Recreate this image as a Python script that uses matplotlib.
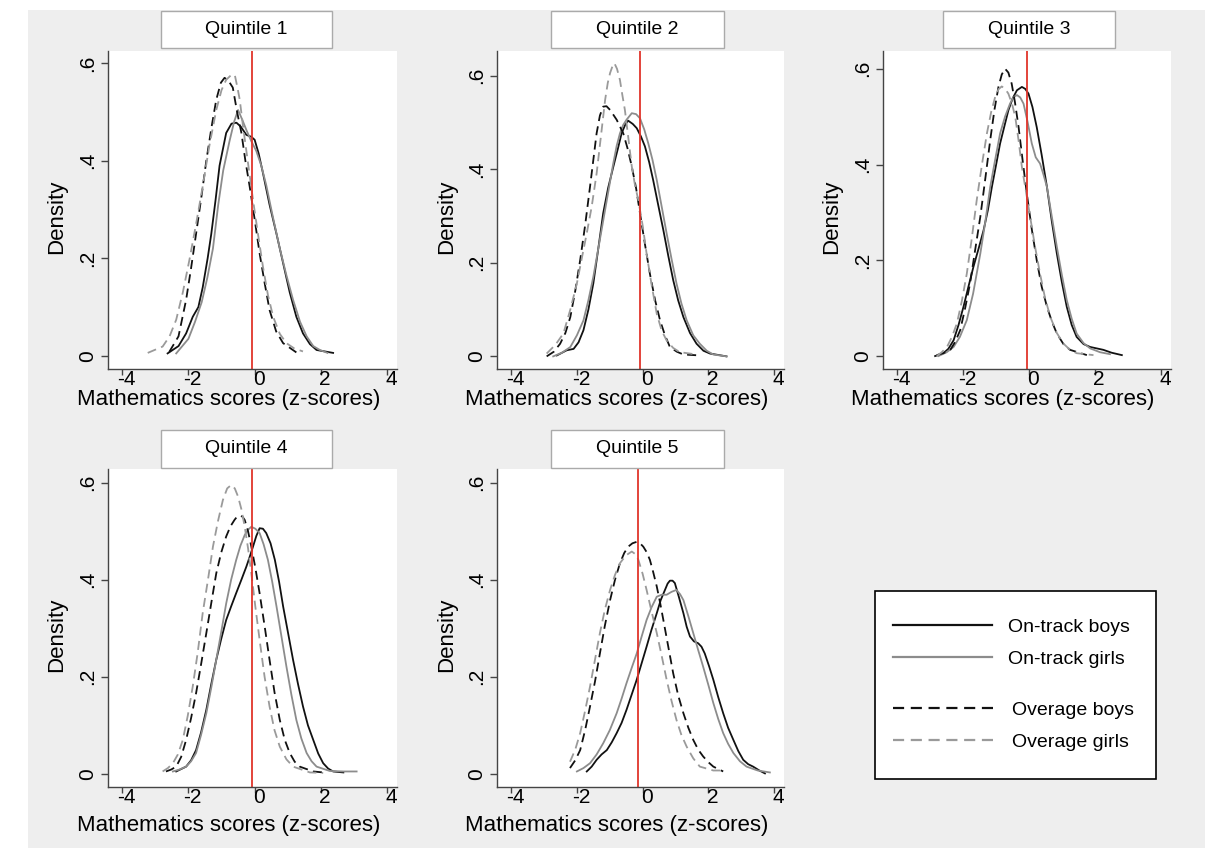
import matplotlib
matplotlib.use("Agg")
import matplotlib.pyplot as plt
from matplotlib.patches import Rectangle
from matplotlib.lines import Line2D
import matplotlib.transforms as mtransforms

plt.rcParams['font.family'] = ['Liberation Sans', 'DejaVu Sans']

# Daten: (z-score, Dichte) je Kurve und Quintil
q1_ontrack_boys = [(-2.63, .005), (-2.3, .02), (-2.07, .046), (-1.87, .08), (-1.7, .1), (-1.57, .14),
                   (-1.42, .2), (-1.31, .25), (-1.18, .32), (-1.06, .39), (-0.86, .457), (-0.7, .476),
                   (-0.55, .478), (-0.42, .47), (-0.25, .453), (-0.1, .449), (0.0, .443), (0.12, .415),
                   (0.25, .375), (0.45, .31), (0.66, .25), (0.86, .19), (1.06, .13), (1.26, .08),
                   (1.46, .046), (1.67, .024), (1.87, .012), (2.37, .006)]
q1_ontrack_girls = [(-2.37, .005), (-2.0, .035), (-1.8, .07), (-1.6, .11), (-1.43, .16), (-1.26, .22),
                    (-1.1, .31), (-0.95, .38), (-0.76, .44), (-0.62, .48), (-0.5, .504), (-0.38, .485),
                    (-0.25, .463), (-0.1, .44), (0.05, .42), (0.2, .39), (0.35, .35), (0.55, .285),
                    (0.76, .22), (0.96, .165), (1.16, .115), (1.37, .07), (1.57, .04), (1.77, .02),
                    (1.97, .012), (2.2, .006)]
q1_overage_boys = [(-2.58, .008), (-2.3, .04), (-2.07, .115), (-1.92, .18), (-1.77, .25), (-1.6, .33),
                   (-1.46, .40), (-1.3, .47), (-1.16, .525), (-1.02, .56), (-0.91, .57), (-0.8, .565),
                   (-0.66, .55), (-0.53, .5), (-0.4, .457), (-0.28, .4), (-0.15, .347), (0.0, .28),
                   (0.15, .21), (0.3, .15), (0.45, .094), (0.65, .05), (0.86, .026), (1.26, .007)]
q1_overage_girls = [(-3.23, .006), (-2.78, .019), (-2.57, .04), (-2.37, .074), (-2.17, .13), (-1.97, .197),
                    (-1.77, .27), (-1.57, .347), (-1.37, .43), (-1.16, .504), (-1.0, .545), (-0.86, .566),
                    (-0.72, .575), (-0.6, .576), (-0.52, .55), (-0.45, .525), (-0.35, .47), (-0.25, .42),
                    (-0.15, .37), (-0.05, .32), (0.1, .25), (0.25, .183), (0.4, .125), (0.56, .08),
                    (0.76, .045), (0.96, .026), (1.2, .015), (1.46, .009)]

q2_ontrack_boys = [(-2.61, .002), (-2.31, .013), (-2.1, .016), (-1.95, .03), (-1.8, .056), (-1.65, .1),
                   (-1.5, .156), (-1.35, .23), (-1.2, .306), (-1.05, .36), (-0.89, .406), (-0.75, .445),
                   (-0.64, .477), (-0.52, .497), (-0.44, .504), (-0.3, .497), (-0.18, .488), (-0.05, .47),
                   (0.07, .449), (0.2, .415), (0.32, .377), (0.47, .325), (0.63, .27), (0.78, .215),
                   (0.93, .163), (1.08, .12), (1.24, .084), (1.44, .05), (1.64, .027), (1.85, .012),
                   (2.05, .006), (2.55, .0)]
q2_ontrack_girls = [(-2.72, .0), (-2.45, .008), (-2.2, .02), (-2.0, .045), (-1.8, .077), (-1.65, .12),
                    (-1.5, .17), (-1.35, .23), (-1.2, .29), (-1.05, .35), (-0.9, .41), (-0.79, .45),
                    (-0.69, .477), (-0.59, .495), (-0.49, .506), (-0.33, .52), (-0.2, .518), (-0.08, .509),
                    (0.05, .485), (0.17, .456), (0.3, .42), (0.43, .377), (0.58, .32), (0.73, .263),
                    (0.88, .208), (1.03, .156), (1.18, .113), (1.34, .077), (1.54, .045), (1.74, .027),
                    (1.95, .012), (2.15, .004), (2.55, .0)]
q2_overage_boys = [(-2.92, .0), (-2.7, .01), (-2.51, .027), (-2.35, .05), (-2.2, .084), (-2.05, .14),
                   (-1.9, .206), (-1.75, .28), (-1.6, .363), (-1.5, .42), (-1.4, .477), (-1.3, .515),
                   (-1.2, .534), (-1.1, .535), (-0.99, .527), (-0.79, .506), (-0.59, .477), (-0.46, .445),
                   (-0.33, .406), (-0.2, .36), (-0.08, .306), (0.07, .24), (0.22, .177), (0.38, .12),
                   (0.53, .077), (0.68, .045), (0.83, .02), (1.04, .01), (1.24, .004), (1.74, .002)]
q2_overage_girls = [(-2.92, .006), (-2.65, .025), (-2.41, .049), (-2.2, .1), (-2.0, .156), (-1.85, .21),
                    (-1.7, .263), (-1.55, .32), (-1.4, .391), (-1.27, .47), (-1.14, .549), (-1.06, .585),
                    (-0.99, .606), (-0.92, .62), (-0.86, .627), (-0.78, .615), (-0.69, .591), (-0.62, .56),
                    (-0.54, .527), (-0.44, .47), (-0.33, .406), (-0.23, .365), (-0.13, .334), (0.0, .28),
                    (0.12, .22), (0.28, .15), (0.43, .091), (0.58, .055), (0.73, .034), (0.93, .018),
                    (1.13, .009), (1.64, .004)]

q3_ontrack_boys = [(-2.85, .0), (-2.6, .006), (-2.45, .015), (-2.29, .033), (-2.14, .065), (-1.99, .103),
                   (-1.84, .145), (-1.69, .186), (-1.53, .225), (-1.38, .263), (-1.25, .305), (-1.13, .353),
                   (-1.0, .4), (-0.88, .444), (-0.75, .48), (-0.63, .513), (-0.5, .538), (-0.37, .555),
                   (-0.22, .562), (-0.12, .558), (-0.02, .548), (0.1, .52), (0.23, .478), (0.38, .42),
                   (0.54, .353), (0.69, .28), (0.84, .214), (0.99, .155), (1.14, .103), (1.29, .065),
                   (1.44, .04), (1.65, .025), (1.85, .019), (2.25, .013), (2.5, .007), (2.81, .002)]
q3_ontrack_girls = [(-2.75, .0), (-2.5, .008), (-2.29, .019), (-2.1, .04), (-1.89, .075), (-1.7, .13),
                    (-1.48, .214), (-1.33, .28), (-1.18, .353), (-1.03, .41), (-0.88, .465), (-0.73, .5),
                    (-0.58, .527), (-0.48, .54), (-0.37, .545), (-0.27, .54), (-0.17, .527), (-0.05, .49),
                    (0.08, .444), (0.2, .415), (0.33, .402), (0.43, .38), (0.54, .353), (0.69, .29),
                    (0.84, .228), (0.99, .17), (1.14, .117), (1.29, .078), (1.44, .047), (1.65, .027),
                    (1.85, .016), (2.15, .008), (2.45, .004)]
q3_overage_boys = [(-2.8, .002), (-2.6, .006), (-2.39, .013), (-2.24, .03), (-2.09, .054), (-1.94, .1),
                   (-1.79, .152), (-1.64, .22), (-1.48, .291), (-1.33, .37), (-1.18, .451), (-1.05, .515),
                   (-0.93, .562), (-0.83, .588), (-0.73, .6), (-0.63, .592), (-0.53, .569), (-0.43, .53),
                   (-0.32, .478), (-0.2, .41), (-0.07, .339), (0.08, .265), (0.23, .2), (0.38, .145),
                   (0.54, .103), (0.69, .072), (0.84, .047), (1.04, .025), (1.24, .013), (1.75, .002)]
q3_overage_girls = [(-2.8, .0), (-2.65, .008), (-2.49, .019), (-2.34, .04), (-2.19, .068), (-2.04, .115),
                    (-1.89, .172), (-1.74, .245), (-1.59, .325), (-1.43, .4), (-1.28, .465), (-1.15, .51),
                    (-1.03, .541), (-0.93, .557), (-0.83, .563), (-0.73, .558), (-0.63, .548), (-0.52, .527),
                    (-0.42, .499), (-0.32, .45), (-0.22, .395), (-0.1, .345), (0.03, .291), (0.18, .228),
                    (0.33, .172), (0.48, .122), (0.64, .082), (0.84, .048), (1.04, .026), (1.24, .013),
                    (1.44, .006), (1.95, .002)]

q4_ontrack_boys = [(-2.37, .005), (-2.07, .015), (-1.92, .028), (-1.77, .049), (-1.62, .085), (-1.46, .132),
                   (-1.31, .185), (-1.16, .235), (-1.01, .278), (-0.86, .317), (-0.71, .345), (-0.56, .372),
                   (-0.4, .4), (-0.25, .427), (-0.15, .447), (-0.05, .468), (0.05, .49), (0.15, .506),
                   (0.25, .505), (0.35, .496), (0.48, .475), (0.61, .441), (0.74, .395), (0.86, .345),
                   (1.01, .29), (1.16, .235), (1.31, .185), (1.46, .139), (1.61, .1), (1.77, .07),
                   (1.92, .042), (2.07, .022), (2.22, .011), (2.37, .005), (2.68, .003)]
q4_ontrack_girls = [(-2.47, .005), (-2.27, .009), (-2.07, .015), (-1.92, .026), (-1.77, .043), (-1.62, .08),
                    (-1.46, .125), (-1.31, .178), (-1.16, .235), (-1.01, .292), (-0.86, .351), (-0.71, .4),
                    (-0.56, .44), (-0.43, .47), (-0.3, .492), (-0.2, .503), (-0.1, .509), (0.02, .505),
                    (0.15, .496), (0.27, .473), (0.4, .441), (0.53, .396), (0.66, .345), (0.81, .283),
                    (0.96, .221), (1.11, .163), (1.26, .111), (1.41, .073), (1.57, .043), (1.72, .026),
                    (1.87, .015), (2.27, .006), (2.68, .005), (3.08, .005)]
q4_overage_boys = [(-2.68, .005), (-2.52, .009), (-2.37, .015), (-2.22, .035), (-2.07, .07), (-1.92, .115),
                   (-1.77, .166), (-1.62, .225), (-1.46, .29), (-1.31, .352), (-1.16, .413), (-1.01, .456),
                   (-0.86, .489), (-0.73, .51), (-0.61, .523), (-0.53, .53), (-0.45, .532), (-0.37, .53),
                   (-0.3, .523), (-0.2, .5), (-0.1, .468), (0.02, .425), (0.15, .372), (0.3, .305),
                   (0.45, .235), (0.6, .168), (0.76, .111), (0.91, .07), (1.06, .043), (1.21, .025),
                   (1.36, .015), (1.77, .005), (2.07, .003)]
q4_overage_girls = [(-2.78, .005), (-2.62, .012), (-2.47, .022), (-2.32, .04), (-2.17, .07), (-2.02, .12),
                    (-1.87, .18), (-1.72, .25), (-1.57, .331), (-1.41, .4), (-1.26, .468), (-1.11, .52),
                    (-0.96, .564), (-0.83, .588), (-0.71, .595), (-0.6, .588), (-0.5, .571), (-0.4, .545),
                    (-0.3, .509), (-0.2, .465), (-0.1, .413), (0.02, .345), (0.15, .276), (0.3, .2),
                    (0.45, .139), (0.6, .09), (0.76, .056), (0.96, .03), (1.16, .015), (1.67, .003),
                    (2.07, .002)]

q5_ontrack_boys = [(-1.7, .005), (-1.55, .015), (-1.4, .029), (-1.25, .04), (-1.09, .049), (-0.94, .065),
                   (-0.79, .084), (-0.64, .105), (-0.49, .132), (-0.34, .162), (-0.18, .194), (-0.03, .228),
                   (0.12, .262), (0.27, .297), (0.43, .331), (0.55, .358), (0.68, .379), (0.76, .392),
                   (0.83, .398), (0.91, .398), (0.98, .393), (1.1, .365), (1.24, .331), (1.34, .303),
                   (1.44, .283), (1.56, .273), (1.69, .269), (1.79, .262), (1.89, .248), (2.02, .222),
                   (2.15, .194), (2.3, .158), (2.45, .125), (2.6, .095), (2.76, .07), (2.91, .047),
                   (3.06, .029), (3.21, .02), (3.36, .015), (3.55, .007), (3.72, .001)]
q5_ontrack_girls = [(-2.0, .005), (-1.8, .012), (-1.6, .022), (-1.4, .04), (-1.2, .063), (-1.0, .09),
                    (-0.79, .125), (-0.64, .155), (-0.49, .187), (-0.34, .217), (-0.18, .248), (-0.03, .283),
                    (0.12, .317), (0.27, .343), (0.43, .365), (0.58, .369), (0.73, .369), (0.88, .375),
                    (1.03, .379), (1.14, .37), (1.24, .358), (1.39, .325), (1.54, .29), (1.69, .255),
                    (1.84, .221), (2.0, .183), (2.15, .146), (2.3, .113), (2.45, .084), (2.6, .062),
                    (2.76, .043), (2.96, .026), (3.16, .015), (3.5, .007), (3.87, .003)]
q5_overage_boys = [(-2.21, .012), (-2.05, .028), (-1.9, .049), (-1.75, .09), (-1.6, .139), (-1.45, .19),
                   (-1.3, .248), (-1.15, .305), (-0.99, .358), (-0.84, .4), (-0.69, .434), (-0.56, .455),
                   (-0.44, .468), (-0.31, .475), (-0.18, .478), (-0.08, .475), (0.02, .468), (0.12, .457),
                   (0.22, .441), (0.32, .416), (0.43, .386), (0.53, .353), (0.63, .317), (0.78, .262),
                   (0.93, .207), (1.08, .162), (1.24, .125), (1.39, .095), (1.54, .07), (1.69, .05),
                   (1.84, .036), (2.0, .024), (2.15, .015), (2.45, .005)]
q5_overage_girls = [(-2.21, .025), (-2.05, .05), (-1.9, .084), (-1.75, .13), (-1.6, .18), (-1.45, .235),
                    (-1.3, .29), (-1.15, .338), (-0.99, .379), (-0.84, .41), (-0.69, .434), (-0.51, .45),
                    (-0.33, .458), (-0.23, .453), (-0.13, .441), (0.0, .412), (0.12, .379), (0.27, .335),
                    (0.43, .29), (0.58, .243), (0.73, .194), (0.88, .15), (1.03, .111), (1.18, .08),
                    (1.34, .056), (1.54, .032), (1.74, .015), (2.15, .007), (2.45, .007)]

titles = ['Quintile 1', 'Quintile 2', 'Quintile 3', 'Quintile 4', 'Quintile 5']
red_lines = [-0.07, -0.08, -0.05, -0.07, -0.13]
y_tops = [0.625, 0.653, 0.637, 0.628, 0.628]
labels = ['On-track boys', 'On-track girls', 'Overage boys', 'Overage girls']

panels = [
    [q1_ontrack_boys, q1_ontrack_girls, q1_overage_boys, q1_overage_girls],
    [q2_ontrack_boys, q2_ontrack_girls, q2_overage_boys, q2_overage_girls],
    [q3_ontrack_boys, q3_ontrack_girls, q3_overage_boys, q3_overage_girls],
    [q4_ontrack_boys, q4_ontrack_girls, q4_overage_boys, q4_overage_girls],
    [q5_ontrack_boys, q5_ontrack_girls, q5_overage_boys, q5_overage_girls],
]

styles = [
    dict(color='#111111', linestyle='-'),
    dict(color='#8c8c8c', linestyle='-'),
    dict(color='#111111', linestyle=(0, (5, 3))),
    dict(color='#9a9a9a', linestyle=(0, (5, 3))),
]

W, H = 1205, 848
fig = plt.figure(figsize=(W / 100, H / 100), dpi=100)
fig.patch.set_facecolor('white')
# grauer Hintergrund
fig.patches.append(Rectangle((28 / W, 0), 1 - 28 / W, 1 - 10 / H, transform=fig.transFigure,
                             facecolor='#eeeeee', edgecolor='none', zorder=-10))

# Position der Panels in Pixeln: links, rechts, oben, unten
boxes = [(108, 397, 51, 369), (497, 784, 51, 369), (883, 1171, 51, 369),
         (108, 397, 469, 787), (497, 784, 469, 787)]
title_boxes = [(161, 332, 11, 48), (551, 724, 11, 48), (943, 1115, 11, 48),
               (161, 332, 430, 468), (551, 724, 430, 468)]
xlabel_y = [-0.097, -0.097, -0.097, -0.12, -0.12]

for i in range(5):
    l, r, t, b = boxes[i]
    ax = fig.add_axes([l / W, 1 - b / H, (r - l) / W, (b - t) / H])
    ax.set_facecolor('white')
    for data, st in zip(panels[i], styles):
        xs = [p[0] for p in data]
        ys = [p[1] for p in data]
        ax.plot(xs, ys, lw=1.3, solid_joinstyle='round', **st)
    ax.axvline(red_lines[i], color='#e0352b', lw=1.3)
    ax.set_xlim(-4.43, 4.3)
    ax.set_ylim(-0.027, y_tops[i])
    ax.set_xticks([-4, -2, 0, 2, 4])
    ax.set_xticklabels(['-4', '-2', '0', '2', '4'])
    ax.set_yticks([0, .2, .4, .6])
    ax.set_yticklabels(['0', '.2', '.4', '.6'], rotation=90, va='center')
    for s in ['top', 'right']:
        ax.spines[s].set_visible(False)
    for s in ['left', 'bottom']:
        ax.spines[s].set_color('#444444')
        ax.spines[s].set_linewidth(1.0)
    ax.tick_params(axis='x', length=4.5, width=1, color='#444444', labelsize=15, pad=-4)
    ax.tick_params(axis='y', length=5, width=1, color='#444444', labelsize=15, pad=2.5)
    off = mtransforms.ScaledTranslation(4 / 100, 0, fig.dpi_scale_trans)
    for lab in ax.get_xticklabels():
        lab.set_transform(lab.get_transform() + off)
    ax.set_xlabel('Mathematics scores (z-scores)', fontsize=16, va='center')
    ax.xaxis.set_label_coords(0.417, xlabel_y[i])
    ax.set_ylabel('Density', fontsize=16, va='center')
    ax.yaxis.set_label_coords(-0.177, 0.48)

    # Titelkasten
    tl, tr, tt, tb = title_boxes[i]
    fig.patches.append(Rectangle((tl / W, 1 - tb / H), (tr - tl) / W, (tb - tt) / H,
                                 transform=fig.transFigure, facecolor='white',
                                 edgecolor='#aaaaaa', lw=1))
    fig.text((tl + tr) / 2 / W, 1 - (tt + tb) / 2 / H, titles[i], ha='center', va='center', fontsize=14)

# Legende
fig.patches.append(Rectangle((875 / W, 1 - 779 / H), (1156 - 875) / W, (779 - 591) / H,
                             transform=fig.transFigure, facecolor='white', edgecolor='black', lw=1.2))
handles = [Line2D([], [], lw=1.6, **st) for st in styles]
fig.legend(handles[:2], labels[:2], loc='center left', bbox_to_anchor=(893 / W, 1 - 643 / H),
           frameon=False, fontsize=14, handlelength=5.1, handletextpad=0.8,
           labelspacing=0.75, borderpad=0, borderaxespad=0)
fig.legend(handles[2:], labels[2:], loc='center left', bbox_to_anchor=(893 / W, 1 - 726 / H),
           frameon=False, fontsize=14, handlelength=5.3, handletextpad=0.8,
           labelspacing=0.75, borderpad=0, borderaxespad=0)

fig.savefig('out.png', dpi=100)
